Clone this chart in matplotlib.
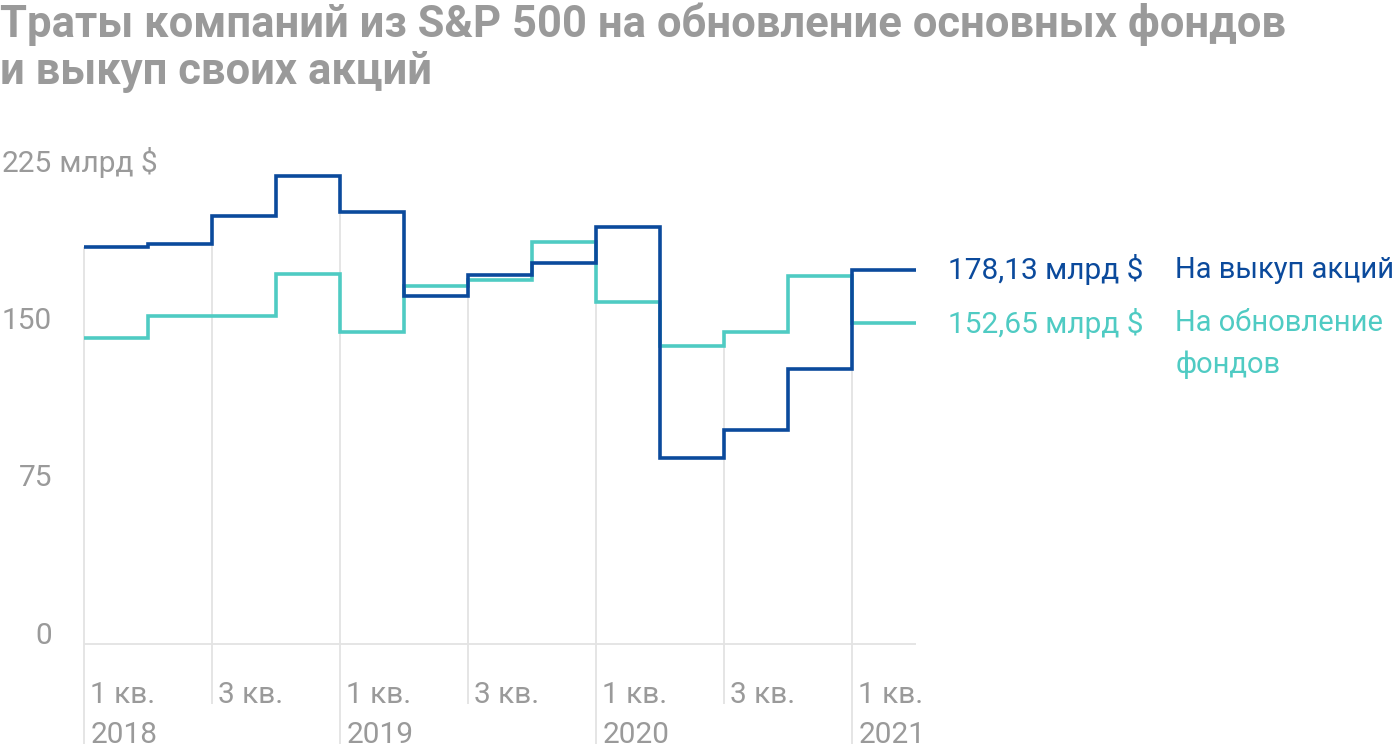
import matplotlib
matplotlib.use("Agg")
import matplotlib.pyplot as plt
import numpy as np

# ---- data ----
quarters = ["1 кв. 2018", "2 кв. 2018", "3 кв. 2018", "4 кв. 2018",
            "1 кв. 2019", "2 кв. 2019", "3 кв. 2019", "4 кв. 2019",
            "1 кв. 2020", "2 кв. 2020", "3 кв. 2020", "4 кв. 2020",
            "1 кв. 2021"]
buybacks = [189.1, 190.6, 203.8, 223.0, 205.8, 165.5, 175.9, 181.6,
            198.7, 88.7, 101.7, 131.1, 178.13]
capex = [145.7, 156.3, 156.3, 176.2, 148.6, 170.5, 173.3, 191.4,
         163.0, 142.0, 148.7, 175.2, 152.65]
tick_labels = ["1 кв.\n2018", "3 кв.", "1 кв.\n2019", "3 кв.",
               "1 кв.\n2020", "3 кв.", "1 кв.\n2021"]
y_ticks = [0, 75, 150, 225]
title_lines = ["Траты компаний из S&P 500 на обновление основных фондов",
               "и выкуп своих акций"]
buy_value = "178,13 млрд $"
buy_name = "На выкуп акций"
capex_value = "152,65 млрд $"
capex_name = ["На обновление", "фондов"]

# ---- style ----
BLUE = "#0B4A9C"
TEAL = "#4FCBC3"
GREY = "#9A9A9A"
GRID = "#E3E3E3"
FONT = ["Roboto", "DejaVu Sans"]
plt.rcParams["font.family"] = FONT

W, H = 1400, 756
fig = plt.figure(figsize=(W / 100, H / 100), dpi=100)

# axes: x 84..916 px, y: value 225 at 171.5 px, bottom of fig at 756 px
px_per_unit = 2.1
y_zero_px = 644
y_top_val = 225
top_px = y_zero_px - y_top_val * px_per_unit
y_bottom_val = -(H - y_zero_px) / px_per_unit
ax = fig.add_axes([84 / W, 0, 832 / W, 1 - top_px / H])
n = len(quarters)
ax.set_xlim(0, n)
ax.set_ylim(y_bottom_val, y_top_val)
ax.axis("off")

edges = np.arange(n + 1)

# gridlines (every 2 quarters), from below baseline up to the series top
for k, lab in zip(range(0, n, 2), tick_labels):
    vals = []
    for i in (k - 1, k):
        if 0 <= i < n:
            vals += [buybacks[i], capex[i]]
    top = max(vals)
    bottom = -47.5 if "\n" in lab else -28.5
    ax.plot([k, k], [bottom, top], color=GRID, lw=1.3, zorder=1,
            solid_capstyle="butt", clip_on=False)
    lines = lab.split("\n")
    ax.text(k + 0.1, -28.3, lines[0], color=GREY, fontsize=21.5,
            ha="left", va="baseline")
    if len(lines) > 1:
        ax.text(k + 0.1, -47.3, lines[1], color=GREY, fontsize=21.5,
                ha="left", va="baseline")

# baseline
ax.plot([0, n], [0, 0], color=GRID, lw=1.3, zorder=1)

# step lines
ax.stairs(capex, edges, baseline=None, color=TEAL, lw=2.6, zorder=3)
ax.stairs(buybacks, edges, baseline=None, color=BLUE, lw=2.6, zorder=4)

# y tick labels
for v in y_ticks:
    ax.text(-0.5, v, f"{v}", color=GREY, fontsize=21.5, ha="right",
            va="baseline", clip_on=False)
    if v == y_ticks[-1]:
        ax.text(-0.5, v, " млрд $", color=GREY, fontsize=21.5, ha="left",
                va="baseline", clip_on=False)

# right-side labels
LBL = 21
ax.text(13.5, buybacks[-1], buy_value, color=BLUE, fontsize=21.5,
        ha="left", va="center", clip_on=False)
ax.text(17.05, buybacks[-1], buy_name, color=BLUE, fontsize=LBL,
        ha="left", va="center", clip_on=False)
ax.text(13.5, capex[-1], capex_value, color=TEAL, fontsize=21.5,
        ha="left", va="center", clip_on=False)
for j, t in enumerate(capex_name):
    ax.text(17.05, capex[-1] - j * 41 / px_per_unit, t, color=TEAL,
            fontsize=LBL, ha="left", va="center", clip_on=False)

# title
for j, t in enumerate(title_lines):
    fig.text(0.0, 1 - (37 + 47 * j) / H, t, color=GREY, fontsize=31.4,
             fontweight="bold", ha="left", va="baseline")

fig.savefig("out.png", dpi=100, facecolor="white")
